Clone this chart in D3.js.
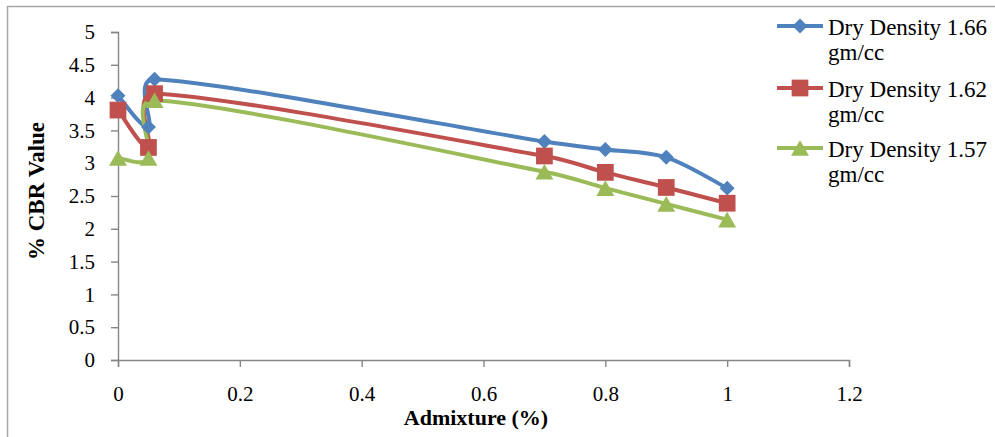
<!DOCTYPE html>
<html><head><meta charset="utf-8">
<script src="https://cdn.jsdelivr.net/npm/d3@7"></script>
<style>body{margin:0;background:#fff}svg{display:block}</style>
</head><body>
<script>
const admixture = [0, 0.05, 0.06, 0.7, 0.8, 0.9, 1];
const seriesNames = ["Dry Density 1.66", "Dry Density 1.62", "Dry Density 1.57"];
const unitLabel = "gm/cc";
const cbr166 = [4.03, 3.55, 4.28, 3.33, 3.21, 3.09, 2.62];
const cbr162 = [3.81, 3.24, 4.06, 3.11, 2.86, 2.63, 2.39];
const cbr157 = [3.08, 3.08, 3.96, 2.87, 2.62, 2.38, 2.14];
const xTicks = [0, 0.2, 0.4, 0.6, 0.8, 1, 1.2];
const yTicks = [0, 0.5, 1, 1.5, 2, 2.5, 3, 3.5, 4, 4.5, 5];
const colors = ["#4F81BD", "#C0504D", "#9BBB59"];

const W = 995, H = 437;
const svg = d3.select("body").append("svg").attr("width", W).attr("height", H);
svg.append("rect").attr("x", 7.5).attr("y", 6.5).attr("width", W).attr("height", H)
  .attr("fill", "#fff").attr("stroke", "#a6a6a6").attr("stroke-width", 1.5);

const x = d3.scaleLinear().domain([0, 1.2]).range([118, 849]);
const y = d3.scaleLinear().domain([0, 5]).range([360, 32]);
const font = "'Liberation Serif', 'Times New Roman', serif";

const gx = svg.append("g").attr("transform", "translate(0,360)")
  .call(d3.axisBottom(x).tickValues(xTicks).tickFormat(d => String(d)).tickSize(7).tickPadding(19));
const gy = svg.append("g").attr("transform", "translate(118,0)")
  .call(d3.axisLeft(y).tickValues(yTicks).tickFormat(d => String(d)).tickSize(7).tickPadding(16));
[gx, gy].forEach(g => {
  g.select(".domain").attr("stroke", "#868686").attr("stroke-width", 1.4);
  g.selectAll(".tick line").attr("stroke", "#868686").attr("stroke-width", 1.4);
  g.selectAll(".tick text").attr("font-family", font).attr("font-size", 21).attr("fill", "#000");
});

svg.append("text").attr("x", 476).attr("y", 425).attr("text-anchor", "middle")
  .attr("font-family", font).attr("font-weight", "bold").attr("font-size", 22).text("Admixture (%)");
svg.append("text").attr("transform", "translate(44,191) rotate(-90)").attr("text-anchor", "middle")
  .attr("font-family", font).attr("font-weight", "bold").attr("font-size", 23).text("% CBR Value");

// Excel-like smoothed line: Catmull-Rom tangents with control arms limited by segment length
function smoothPath(pts) {
  const p = d3.path();
  const n = pts.length;
  p.moveTo(pts[0][0], pts[0][1]);
  const clampArm = (dx, dy, segLen) => {
    const len = Math.hypot(dx, dy), maxLen = segLen * 0.45;
    if (len > maxLen && len > 0) { const k = maxLen / len; return [dx * k, dy * k]; }
    return [dx, dy];
  };
  for (let i = 0; i < n - 1; i++) {
    const p0 = pts[Math.max(i - 1, 0)], p1 = pts[i], p2 = pts[i + 1], p3 = pts[Math.min(i + 2, n - 1)];
    const segLen = Math.hypot(p2[0] - p1[0], p2[1] - p1[1]);
    const a = clampArm((p2[0] - p0[0]) / 6, (p2[1] - p0[1]) / 6, segLen);
    const b = clampArm((p3[0] - p1[0]) / 6, (p3[1] - p1[1]) / 6, segLen);
    p.bezierCurveTo(p1[0] + a[0], p1[1] + a[1], p2[0] - b[0], p2[1] - b[1], p2[0], p2[1]);
  }
  return p.toString();
}

const diamond = d3.symbol().type(d3.symbolSquare).size(112)();
const square = d3.symbol().type(d3.symbolSquare).size(280)();
const triangle = d3.symbol().type(d3.symbolTriangle).size(140)();
const markerDefs = [
  { d: diamond, extra: " rotate(45)", dy: 0 },
  { d: square, extra: "", dy: 0 },
  { d: triangle, extra: "", dy: 2.6 }
];

const all = [cbr166, cbr162, cbr157];
all.forEach((vals, i) => {
  const pts = admixture.map((a, j) => [x(a), y(vals[j])]);
  svg.append("path").attr("d", smoothPath(pts)).attr("fill", "none")
    .attr("stroke", colors[i]).attr("stroke-width", 4).attr("stroke-linejoin", "round");
});
all.forEach((vals, i) => {
  const m = markerDefs[i];
  svg.append("g").selectAll("path").data(admixture.map((a, j) => [a, vals[j]])).join("path")
    .attr("transform", d => `translate(${x(d[0])},${y(d[1]) + m.dy})${m.extra}`)
    .attr("d", m.d).attr("fill", colors[i]);
});

// legend
const legendY = [26, 88, 148];
seriesNames.forEach((name, i) => {
  const m = markerDefs[i];
  const g = svg.append("g").attr("transform", `translate(0,${legendY[i]})`);
  g.append("line").attr("x1", 777).attr("x2", 823).attr("y1", 0).attr("y2", 0)
    .attr("stroke", colors[i]).attr("stroke-width", 4);
  g.append("path").attr("transform", `translate(800,${m.dy})${m.extra}`)
    .attr("d", m.d).attr("fill", colors[i]);
  const t = g.append("text").attr("font-family", font).attr("font-size", 23).attr("fill", "#000");
  t.append("tspan").attr("x", 828).attr("y", 9).text(name);
  t.append("tspan").attr("x", 828).attr("y", 34).text(unitLabel);
});
</script>
</body></html>
